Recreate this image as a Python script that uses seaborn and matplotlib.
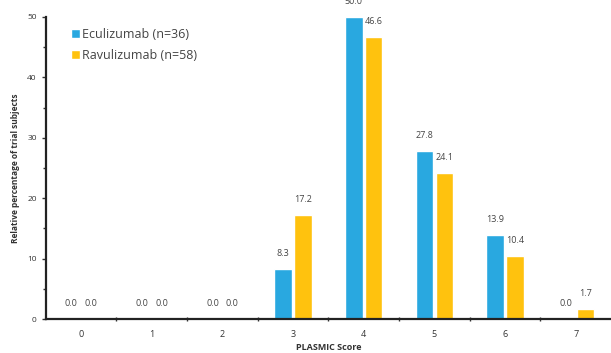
import matplotlib
matplotlib.use("Agg")
import matplotlib.pyplot as plt
from matplotlib.ticker import MultipleLocator, FixedLocator
import seaborn as sns
import pandas as pd

scores = ["0", "1", "2", "3", "4", "5", "6", "7"]
eculizumab = [0.0, 0.0, 0.0, 8.3, 50.0, 27.8, 13.9, 0.0]
ravulizumab = [0.0, 0.0, 0.0, 17.2, 46.6, 24.1, 10.4, 1.7]
series_names = ["Eculizumab (n=36)", "Ravulizumab (n=58)"]
colors = ["#29A8E0", "#FFC20E"]

df = pd.DataFrame({
    "score": scores * 2,
    "value": eculizumab + ravulizumab,
    "group": [series_names[0]] * len(scores) + [series_names[1]] * len(scores),
})

sns.set_style("white")
plt.rcParams["font.family"] = ["Open Sans", "DejaVu Sans"]

fig = plt.figure(figsize=(6.11, 3.53), dpi=100)
ax = fig.add_axes([0.075, 0.096, 0.925, 0.856])

sns.barplot(data=df, x="score", y="value", hue="group", palette=colors,
            width=0.56, gap=0.12, saturation=1, ax=ax, legend=True)

for cont in ax.containers:
    ax.bar_label(cont, fmt="%.1f", padding=8, fontsize=6.5, color="#444444")

ax.set_ylim(0, 50)
ax.set_xlim(-0.5, 7.5)
ax.yaxis.set_major_locator(MultipleLocator(10))
ax.yaxis.set_minor_locator(MultipleLocator(5))
ax.tick_params(axis="y", which="major", length=3, width=1, labelsize=6, colors="#333333", direction="out", left=True)
ax.tick_params(axis="y", which="minor", length=2, width=1, direction="out", left=True, color="#333333")
ax.xaxis.set_minor_locator(FixedLocator([i + 0.5 for i in range(7)]))
ax.tick_params(axis="x", which="major", length=0, labelsize=6.5, colors="#333333", pad=8)
ax.tick_params(axis="x", which="minor", length=3, width=1, direction="inout", bottom=True, color="#333333")

for s in ["top", "right"]:
    ax.spines[s].set_visible(False)
for s in ["left", "bottom"]:
    ax.spines[s].set_color("#222222")
    ax.spines[s].set_linewidth(1.6)

ax.set_xlabel("PLASMIC Score", fontsize=6.5, fontweight="bold", color="#333333", labelpad=3)
ax.set_ylabel("Relative percentage of trial subjects", fontsize=6, fontweight="bold", color="#333333", labelpad=5)

leg = ax.legend(loc="upper left", bbox_to_anchor=(0.025, 1.0), frameon=False, fontsize=9,
                handlelength=0.7, handleheight=0.7, handletextpad=0.2, labelspacing=0.6,
                labelcolor="#444444")

fig.savefig("out.png", dpi=100)
